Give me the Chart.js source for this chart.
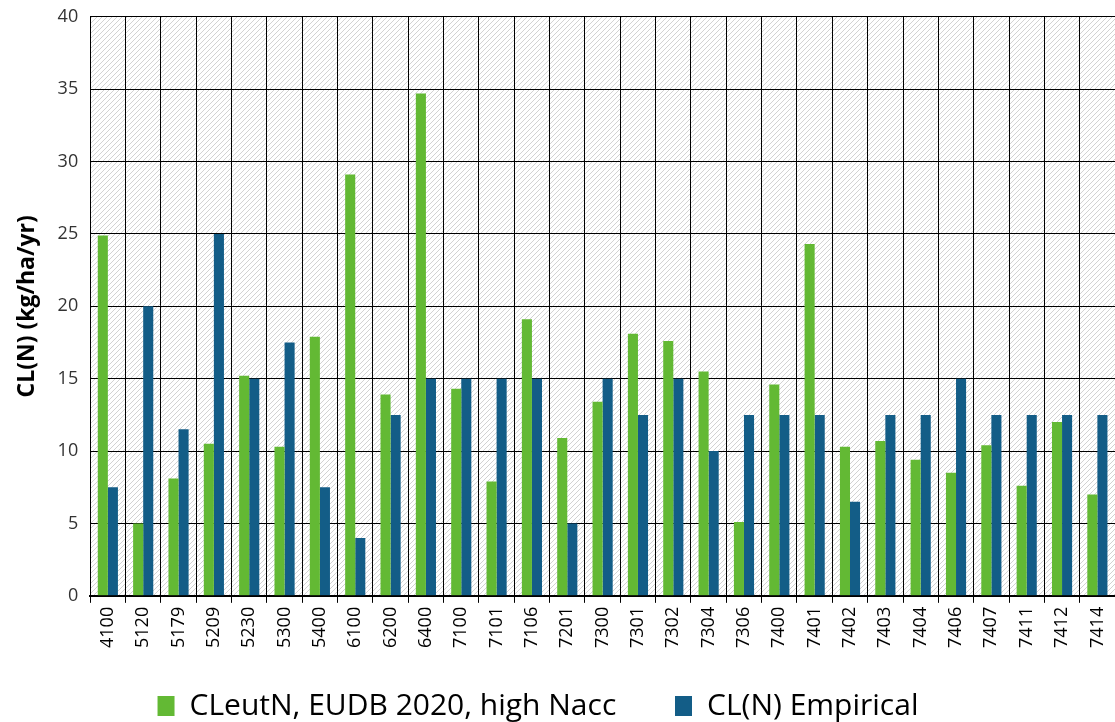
<!DOCTYPE html>
<html>
<head>
<meta charset="utf-8">
<script src="https://cdn.jsdelivr.net/npm/chart.js@4.4.1/dist/chart.umd.min.js"></script>
<style>
  html, body { margin: 0; padding: 0; background: #fff; overflow: hidden; }
  #wrap { width: 1123px; height: 728px; margin-top: -6px; }
</style>
</head>
<body>
<div id="wrap"><canvas id="chart" width="1123" height="728"></canvas></div>
<script>
const habitats = ['4100', '5120', '5179', '5209', '5230', '5300', '5400', '6100', '6200', '6400',
    '7100', '7101', '7106', '7201', '7300', '7301', '7302', '7304', '7306', '7400',
    '7401', '7402', '7403', '7404', '7406', '7407', '7411', '7412', '7414'];
const clEutN = [24.9, 5.0, 8.1, 10.5, 15.2, 10.3, 17.9, 29.1, 13.9, 34.7,
    14.3, 7.9, 19.1, 10.9, 13.4, 18.1, 17.6, 15.5, 5.1, 14.6,
    24.3, 10.3, 10.7, 9.4, 8.5, 10.4, 7.6, 12.0, 7.0];
const clEmpirical = [7.5, 20, 11.5, 25, 15, 17.5, 7.5, 4, 12.5, 15,
    15, 15, 15, 5, 15, 12.5, 15, 10, 12.5, 12.5,
    12.5, 6.5, 12.5, 12.5, 15, 12.5, 12.5, 12.5, 12.5];
const yTicks = [0, 5, 10, 15, 20, 25, 30, 35, 40];

// hatched plot background
const makeHatch = () => {
    const c = document.createElement('canvas');
    c.width = 5; c.height = 5;
    const g = c.getContext('2d');
    g.fillStyle = '#fff';
    g.fillRect(0, 0, 5, 5);
    g.strokeStyle = '#d2d2d2';
    g.lineWidth = 1;
    g.beginPath();
    g.moveTo(-1, 6); g.lineTo(6, -1);
    g.moveTo(-1, 1); g.lineTo(1, -1);
    g.moveTo(4, 6); g.lineTo(6, 4);
    g.stroke();
    return g.createPattern(c, 'repeat');
};

const hatchBg = {
    id: 'hatchBg',
    beforeDraw(chart) {
        const { ctx, chartArea } = chart;
        ctx.save();
        ctx.fillStyle = makeHatch();
        ctx.fillRect(chartArea.left, chartArea.top, chartArea.right - chartArea.left, chartArea.bottom - chartArea.top);
        ctx.restore();
    }
};

// legend sits a bit left of centre and near the bottom edge in the original
const legendShift = {
    id: 'legendShift',
    afterLayout(chart) {
        chart.legend.left -= 30;
        chart.legend.right -= 30;
        chart.legend.top += 27;
        chart.legend.bottom += 27;
    }
};

const font = '"Open Sans", "DejaVu Sans", sans-serif';

new Chart(document.getElementById('chart').getContext('2d'), {
    type: 'bar',
    data: {
        labels: habitats,
        datasets: [{
            label: 'CLeutN, EUDB 2020, high Nacc',
            data: clEutN,
            backgroundColor: '#63b934'
        }, {
            label: 'CL(N) Empirical',
            data: clEmpirical,
            backgroundColor: '#135d87'
        }]
    },
    options: {
        responsive: false,
        animation: false,
        layout: { padding: { top: 0, left: 14, right: 1, bottom: 18 } },
        datasets: {
            bar: { categoryPercentage: 0.57, barPercentage: 1.0 }
        },
        scales: {
            x: {
                grid: { color: '#000', lineWidth: 1, drawTicks: true, tickLength: 7 },
                border: { color: '#000', width: 2 },
                ticks: {
                    color: '#000',
                    padding: 4,
                    font: { family: font, size: 18 },
                    minRotation: 90, maxRotation: 90,
                    autoSkip: false
                }
            },
            y: {
                min: 0, max: 40,
                afterBuildTicks: (axis) => { axis.ticks = yTicks.map(v => ({ value: v })); },
                grid: { color: '#000', lineWidth: 1, drawTicks: false },
                border: { color: '#000', width: 1 },
                ticks: {
                    color: '#333',
                    padding: 12,
                    font: { family: font, size: 18 }
                },
                title: {
                    display: true,
                    text: 'CL(N) (kg/ha/yr)',
                    color: '#000',
                    font: { family: font, size: 23, weight: 'bold' },
                    padding: { top: 0, bottom: 4 }
                }
            }
        },
        plugins: {
            legend: {
                position: 'bottom',
                labels: {
                    color: '#000',
                    font: { family: font, size: 30 },
                    boxWidth: 17,
                    boxHeight: 20,
                    padding: 12,
                    generateLabels(chart) {
                        const items = Chart.defaults.plugins.legend.labels.generateLabels(chart);
                        items[0].text += '      ';
                        return items;
                    }
                }
            },
            tooltip: { enabled: false }
        }
    },
    plugins: [hatchBg, legendShift]
});
</script>
</body>
</html>
